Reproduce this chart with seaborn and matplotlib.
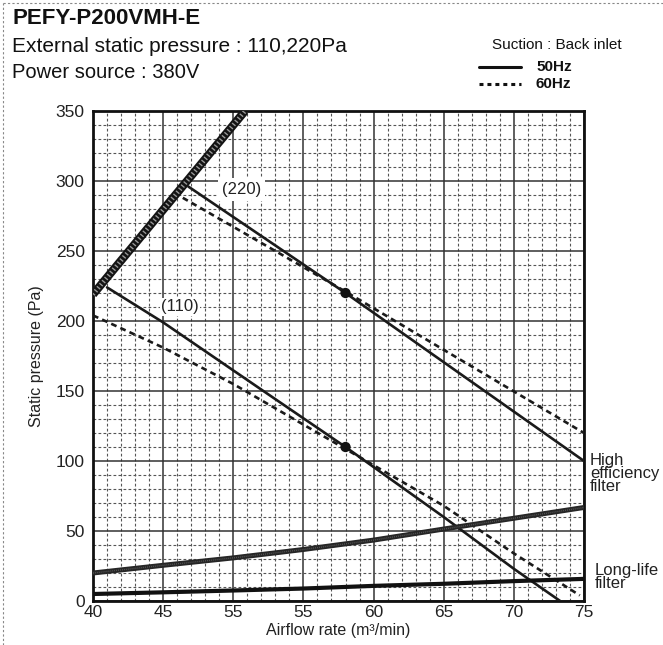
import numpy as np
import pandas as pd
import matplotlib
matplotlib.use("Agg")
import matplotlib.pyplot as plt
from matplotlib.lines import Line2D
import seaborn as sns

# ---------------- data ----------------
x_ticks = [40, 45, 50, 55, 60, 65, 70, 75]
x_tick_labels = ["40", "45", "55", "55", "60", "65", "70", "75"]
y_ticks = [0, 50, 100, 150, 200, 250, 300, 350]

limit_x = [40, 46.7, 50.83]
limit_y = [219, 300, 350]

p220_50_x = [46.8, 58, 75]
p220_50_y = [296, 220, 100]
p220_60_x = [46.4, 53, 58, 75]
p220_60_y = [288, 250, 221, 120]

p110_50_x = [41, 45, 52, 58, 65, 70, 73.3]
p110_50_y = [224, 199, 151, 110, 60, 23, 0]
p110_60_x = [40, 45, 50, 55, 60, 65, 70, 74.7]
p110_60_y = [204, 181, 155, 126, 97, 68, 34, 4]

rated_x = [58, 58]
rated_y = [220, 110]

filt_x = [40, 45, 50, 55, 60, 65, 70, 75]
high_eff_y = [20, 25.5, 30.8, 36.8, 43.5, 51.4, 59.1, 66.8]
long_life_y = [5, 6.2, 7.5, 8.9, 10.8, 12.3, 14.2, 15.8]

# ---------------- style ----------------
sns.set_style("white")
plt.rcParams["font.family"] = ["Liberation Sans", "DejaVu Sans"]

W, H = 663, 645
fig = plt.figure(figsize=(W / 100, H / 100), dpi=100)
ax = fig.add_axes([93 / W, 1 - 601 / H, (584 - 93) / W, (601 - 111) / H])

ax.set_xlim(40, 75)
ax.set_ylim(0, 350)
ax.set_xticks(x_ticks)
ax.set_xticklabels(x_tick_labels)
ax.set_yticks(y_ticks)
ax.set_xticks(np.arange(40, 76, 1), minor=True)
ax.set_yticks(np.arange(0, 351, 10), minor=True)
ax.tick_params(which="both", length=0)
ax.tick_params(axis="both", labelsize=12.5, colors="#222")
ax.tick_params(axis="x", pad=3)
ax.tick_params(axis="y", pad=6)
ax.set_axisbelow(True)
ax.grid(which="minor", color="#555", lw=0.8, ls=(0, (2.5, 2)))
ax.grid(which="major", color="#333", lw=1.1, ls="-")
for s in ax.spines.values():
    s.set_linewidth(2)
    s.set_color("#111")

# thick hatched limit line
sns.lineplot(x=limit_x, y=limit_y, ax=ax, color="#141414", linewidth=6,
             solid_capstyle="butt", zorder=5)
sns.lineplot(x=limit_x, y=limit_y, ax=ax, color="#9a9a9a", linewidth=3.2,
             linestyle=(0, (0.3, 0.6)), zorder=6)

solid_kw = dict(color="#1a1a1a", linewidth=1.9, zorder=4)
dash_kw = dict(color="#1a1a1a", linewidth=1.9, linestyle=(0, (2.2, 1.6)), zorder=4)

sns.lineplot(x=p220_50_x, y=p220_50_y, ax=ax, **solid_kw)
sns.lineplot(x=p220_60_x, y=p220_60_y, ax=ax, **dash_kw)
sns.lineplot(x=p110_50_x, y=p110_50_y, ax=ax, **solid_kw)
sns.lineplot(x=p110_60_x, y=p110_60_y, ax=ax, **dash_kw)

# filter curves
sns.lineplot(x=filt_x, y=high_eff_y, ax=ax, color="#262626", linewidth=3.6, zorder=4)
sns.lineplot(x=filt_x, y=high_eff_y, ax=ax, color="#5a5a5a", linewidth=1.0,
             linestyle=(0, (0.6, 0.8)), zorder=4)
sns.lineplot(x=filt_x, y=long_life_y, ax=ax, color="#111", linewidth=3.0, zorder=4)

sns.scatterplot(x=rated_x, y=rated_y, ax=ax, color="#111", s=55, zorder=7,
                edgecolor="none")

ax.text(50.6, 294, "(220)", fontsize=12, ha="center", va="center", color="#222",
        bbox=dict(facecolor="white", edgecolor="none", pad=3), zorder=3)
ax.text(46.2, 210, "(110)", fontsize=12, ha="center", va="center", color="#222",
        bbox=dict(facecolor="white", edgecolor="none", pad=1.0), zorder=3)

ax.set_xlabel("Airflow rate (m³/min)", fontsize=11.5, color="#222", labelpad=2)
ax.set_ylabel("Static pressure (Pa)", fontsize=11.5, color="#222", labelpad=8)

# right-side labels
ax.text(1.012, 91 / 350, "High\nefficiency\nfilter", transform=ax.transAxes,
        fontsize=12, ha="left", va="center", color="#222", linespacing=0.82)
ax.text(1.022, 17 / 350, "Long-life\nfilter", transform=ax.transAxes,
        fontsize=12, ha="left", va="center", color="#222", linespacing=0.82)

# header text
fig.text(12 / W, 1 - 19 / H, "PEFY-P200VMH-E", fontsize=16, fontweight="bold",
         ha="left", va="center", color="#111")
fig.text(12 / W, 1 - 46 / H, "External static pressure : 110,220Pa", fontsize=15,
         ha="left", va="center", color="#111")
fig.text(12 / W, 1 - 73 / H, "Power source : 380V", fontsize=14.5,
         ha="left", va="center", color="#111")
fig.text(622 / W, 1 - 45 / H, "Suction : Back inlet", fontsize=11,
         ha="right", va="center", color="#111")

# legend
fig.add_artist(Line2D([479 / W, 521 / W], [1 - 67 / H, 1 - 67 / H], color="#111", lw=2.2))
fig.add_artist(Line2D([479 / W, 521 / W], [1 - 84 / H, 1 - 84 / H], color="#111", lw=2.2,
                      linestyle=(0, (1.3, 1.3))))
fig.text(536 / W, 1 - 67 / H, "50Hz", fontsize=11, fontweight="bold",
         ha="left", va="center", color="#111")
fig.text(536 / W, 1 - 84 / H, "60Hz", fontsize=11, fontweight="bold",
         ha="left", va="center", color="#111")

# dotted outer border (top and left)
fig.add_artist(Line2D([3 / W, 1], [1 - 3 / H, 1 - 3 / H], color="#888", lw=0.8,
                      linestyle=(0, (2, 2))))
fig.add_artist(Line2D([3 / W, 3 / W], [0, 1 - 3 / H], color="#888", lw=0.8,
                      linestyle=(0, (2, 2))))

fig.savefig("out.png", dpi=100)
